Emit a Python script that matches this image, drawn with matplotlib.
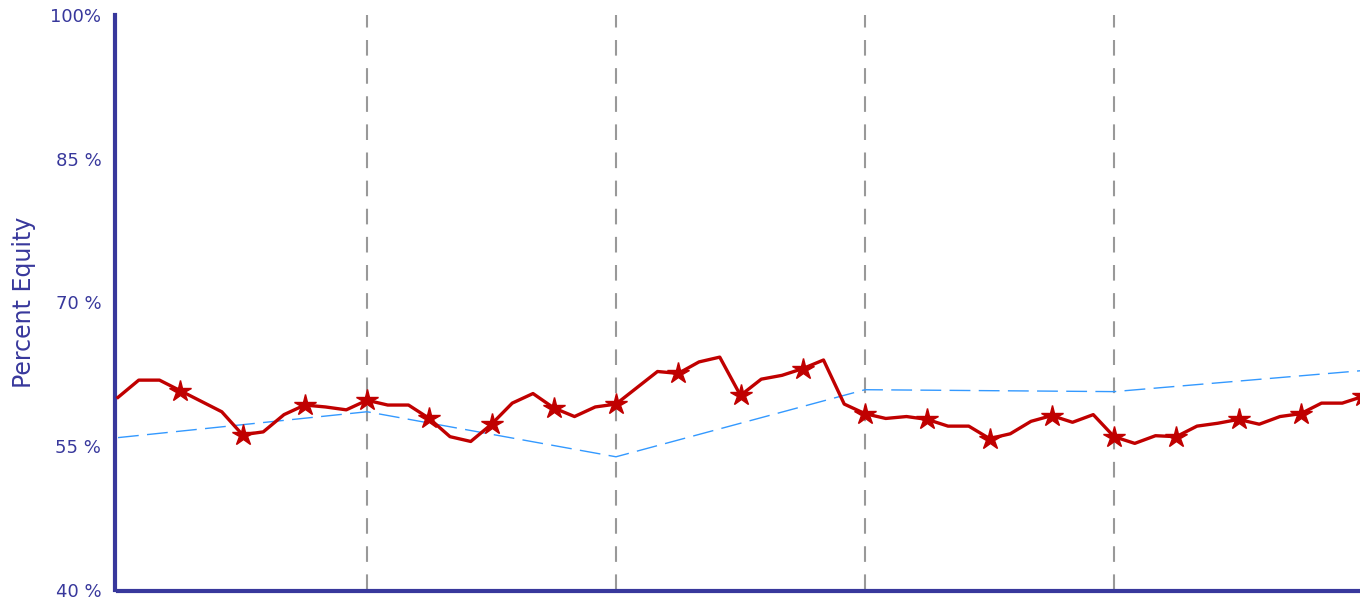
import numpy as np
import matplotlib
matplotlib.use("Agg")
import matplotlib.pyplot as plt

# monthly equity share (percent), 5 years
equity = [60.1, 61.9, 61.9, 60.8, 59.7, 58.6, 56.2, 56.5, 58.3, 59.3, 59.1, 58.8,
          59.8, 59.3, 59.3, 57.9, 56.0, 55.5, 57.3, 59.5, 60.5, 59.0, 58.1, 59.1,
          59.4, 61.1, 62.8, 62.6, 63.8, 64.3, 60.3, 62.0, 62.4, 63.1, 64.0, 59.4,
          58.4, 57.9, 58.1, 57.8, 57.1, 57.1, 55.8, 56.3, 57.6, 58.2, 57.5, 58.3,
          56.0, 55.3, 56.1, 56.0, 57.1, 57.4, 57.8, 57.3, 58.1, 58.4, 59.5, 59.5,
          60.2]
# yearly benchmark (percent)
benchmark = [55.9, 58.6, 53.9, 60.9, 60.7, 62.9]
year_marks = [1, 2, 3, 4]
yticks = [40, 55, 70, 85, 100]
ytick_labels = ['40 %', '55 %', '70 %', '85 %', '100%']

navy = '#38389c'
months = np.arange(len(equity)) / 12.0
years = np.arange(len(benchmark))
quarters = list(range(3, len(equity), 3))

fig = plt.figure(figsize=(13.6, 6.05), dpi=100)
ax = fig.add_axes([118/1360, 15/605, 1242/1360, 575/605])

for xm in year_marks:
    ax.axvline(xm, color='#999999', lw=1.5, dashes=(7.5, 6), zorder=1)

ax.plot(years, benchmark, color='#3399ff', lw=1.0, dashes=(15, 6), zorder=2)
ax.plot(months, equity, color='#c00000', lw=2.4, marker='*', markevery=quarters,
        markersize=16, zorder=3, clip_on=False)

ax.set_xlim(0, 1242 / 249)
ax.set_ylim(40, 100)
ax.set_xticks([])
ax.set_yticks(yticks)
ax.set_yticklabels(ytick_labels)
ax.tick_params(axis='y', length=0, pad=10, labelsize=13, labelcolor=navy)

for side in ['top', 'right']:
    ax.spines[side].set_visible(False)
for side in ['left', 'bottom']:
    ax.spines[side].set_color(navy)
    ax.spines[side].set_linewidth(3)
ax.spines['left'].set_position(('outward', 2))
ax.spines['bottom'].set_position(('outward', 1))

ax.set_ylabel('Percent Equity', fontsize=17, color=navy)
ax.yaxis.set_label_coords(-0.066, 0.5)

fig.savefig('out.png', dpi=100)
